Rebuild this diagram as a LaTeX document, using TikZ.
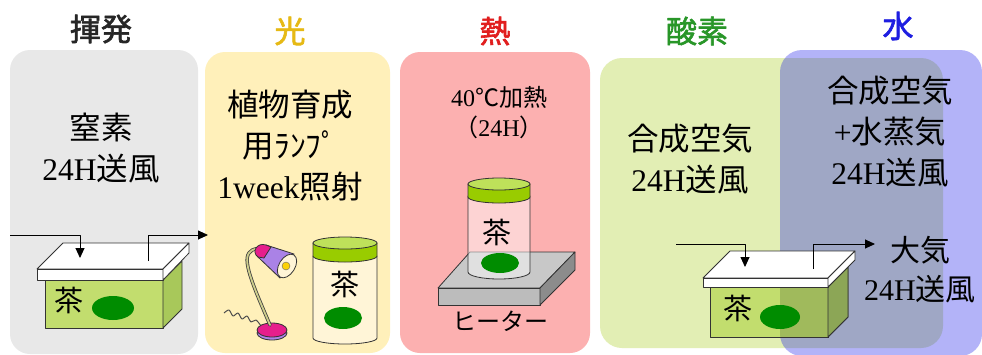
\documentclass[tikz,border=0pt]{standalone}
\usepackage{fontspec}
\setmainfont{Liberation Serif}
\newfontfamily\jpfont{Noto Sans CJK JP}
\newfontfamily\jpbold[FakeBold=2]{Noto Sans CJK JP}
\usepackage{tikz}
\usetikzlibrary{arrows.meta}
\definecolor{panelgray}{RGB}{232, 232, 232}
\definecolor{panelyellow}{RGB}{255, 240, 186}
\definecolor{panelred}{RGB}{252, 176, 176}
\definecolor{panelgreen}{RGB}{226, 238, 180}
\definecolor{panelblue}{RGB}{20, 20, 235}
\definecolor{teabox}{RGB}{194, 221, 110}
\definecolor{teaside}{RGB}{168, 200, 90}
\definecolor{teaboxdim}{RGB}{160, 186, 92}
\definecolor{teasidedim}{RGB}{140, 166, 86}
\definecolor{tealeaf}{RGB}{0, 140, 0}
\definecolor{capgreen}{RGB}{153, 204, 0}
\definecolor{captop}{RGB}{190, 225, 90}
\definecolor{jarcream}{RGB}{255, 245, 215}
\definecolor{lampmagenta}{RGB}{230, 30, 140}
\definecolor{lamppurple}{RGB}{170, 130, 230}
\definecolor{lampstem}{RGB}{205, 205, 140}
\definecolor{heatertop}{RGB}{200, 200, 200}
\definecolor{heaterfront}{RGB}{188, 188, 188}
\definecolor{heaterside}{RGB}{140, 140, 140}
\definecolor{titlegold}{RGB}{230, 185, 20}
\definecolor{titlered}{RGB}{225, 30, 30}
\definecolor{titlegreen}{RGB}{40, 150, 40}
\definecolor{titleblue}{RGB}{30, 30, 225}

\begin{document}
\begin{tikzpicture}[x=1pt, y=-1pt, line join=round,
        title/.style   = {font=\jpbold\fontsize{31}{31}\selectfont, text=black!85},
        caption/.style = {align=center, font=\fontsize{31.5}{41}\selectfont},
        small/.style   = {align=center, font=\fontsize{24}{30}\selectfont},
        tea/.style     = {font=\jpfont\fontsize{29}{29}\selectfont},
        outline/.style = {draw=black!80, line width=0.8pt},
        flow/.style    = {-{Triangle[width=9pt, length=10pt]}, line width=0.9pt}]
            % Frame to ensure alignment:
            \useasboundingbox[fill=white]                               (0, 0)     rectangle (982, 354);
            % panels
            \fill[panelgray,   rounded corners=20pt]                     (10, 50)   rectangle (198, 354);
            \fill[panelyellow, rounded corners=20pt]                     (205, 52)  rectangle (390, 353);
            \fill[panelred,    rounded corners=20pt]                     (400, 52)  rectangle (590, 353);
            \fill[panelgreen,  rounded corners=22pt]                     (600, 58)  rectangle (943, 348);
            % titles
            \node[title]                  (tVolatile) at (101, 29)  {揮発};
            \node[title, text=titlegold]  (tLight)    at (290, 31)  {光};
            \node[title, text=titlered]   (tHeat)     at (495, 31)  {熱};
            \node[title, text=titlegreen] (tOxygen)   at (697, 31)  {酸素};
            \node[title, text=titleblue]  (tWater)    at (898, 26)  {水};
            % nitrogen box
            \filldraw[fill=teabox, outline]                              (45, 280)  rectangle (163, 328);
            \filldraw[fill=teaside, outline] (163, 280) -- (182, 261) -- (182, 309) -- (163, 328) -- cycle;
            \filldraw[fill=white, outline]   (37, 269) -- (163, 269) -- (189, 243) -- (63, 243) -- cycle;
            \filldraw[fill=white, outline]                               (37, 269)  rectangle (163, 280);
            \filldraw[fill=white, outline]   (163, 269) -- (189, 243) -- (189, 253) -- (163, 280) -- cycle;
            \filldraw[fill=tealeaf, draw=none]                           (113, 308) ellipse   (21 and 12);
            \node[tea] (teaA) at (69, 300) {茶};
            \coordinate (inA)      at (10, 235);
            \coordinate (inAbend)  at (80, 235);
            \coordinate (inAtip)   at (80, 258);
            \coordinate (outA)     at (148, 261);
            \coordinate (outAbend) at (148, 235);
            \coordinate (outAtip)  at (208, 235);
            \draw[flow] (inA) -- (inAbend) -- (inAtip);
            \draw[flow] (outA) -- (outAbend) -- (outAtip);
            \node[caption] (cNitrogen) at (101, 148) {{\jpfont 窒素}\\24H{\jpfont 送風}};
            % lamp
            \draw[line width=1pt, black!70] plot[smooth] coordinates {(224, 313) (229, 310) (233, 316) (238, 313) (242, 319) (247, 316) (251, 322) (256, 320) (261, 326)};
            \filldraw[fill=lamppurple, outline]                          (272, 333) ellipse   (15 and 7);
            \filldraw[fill=lampmagenta, outline]                         (272, 330) ellipse   (15 and 7);
            \draw[line width=3.4pt, black!75, line cap=round] (270, 325) .. controls (256, 292) and (242, 262) .. (249, 253) .. controls (253, 248) and (258, 248) .. (262, 250);
            \draw[line width=1.8pt, lampstem, line cap=round]  (270, 325) .. controls (256, 292) and (242, 262) .. (249, 253) .. controls (253, 248) and (258, 248) .. (262, 250);
            \filldraw[fill=lamppurple, outline] (266, 245) -- (294, 254) -- (280, 278) -- (258, 257) -- cycle;
            \filldraw[fill=lampmagenta, outline] (266, 245) .. controls (257, 242) and (251, 252) .. (258, 257) -- (264, 258) -- (271, 247) -- cycle;
            \filldraw[fill=jarcream, outline, rotate around={58:(287, 266)}] (287, 266) ellipse (13 and 8);
            \filldraw[fill=yellow!70!orange, draw=black!60]              (286, 266) circle    (4);
            % jar under the lamp
            \filldraw[fill=jarcream, outline] (313, 256) -- (313, 338) arc[start angle=180, end angle=0, x radius=32, y radius=6] -- (377, 256) -- cycle;
            \filldraw[fill=capgreen, outline] (313, 243) -- (313, 256) arc[start angle=180, end angle=0, x radius=32, y radius=6] -- (377, 243) -- cycle;
            \filldraw[fill=captop, outline]                              (345, 243) ellipse   (32 and 6);
            \filldraw[fill=tealeaf, draw=none]                           (343, 318) ellipse   (19 and 11);
            \node[tea] (teaB) at (345, 284) {茶};
            \node[caption] (cLamp) at (290, 146) {{\jpfont 植物育成}\\{\jpfont 用ﾗﾝﾌﾟ}\\1week{\jpfont 照射}};
            % heater and jar
            \filldraw[fill=heatertop, outline]   (438, 288) -- (540, 288) -- (575, 252) -- (470, 252) -- cycle;
            \filldraw[fill=heaterfront, outline]                         (438, 288) rectangle (540, 305);
            \filldraw[fill=heaterside, outline]  (540, 288) -- (575, 252) -- (575, 270) -- (540, 305) -- cycle;
            \filldraw[fill=white, fill opacity=0.45, outline] (468, 196) -- (468, 272) arc[start angle=180, end angle=0, x radius=31, y radius=7] -- (530, 196) -- cycle;
            \filldraw[fill=capgreen, outline] (468, 184) -- (468, 197) arc[start angle=180, end angle=0, x radius=31, y radius=6] -- (530, 184) -- cycle;
            \filldraw[fill=captop, outline]                              (499, 184) ellipse   (31 and 6);
            \filldraw[fill=tealeaf, draw=none]                           (500, 263) ellipse   (19 and 10);
            \node[tea] (teaC) at (497, 232) {茶};
            \node[font=\jpfont\fontsize{24}{24}\selectfont] (lHeater) at (500, 321) {ヒーター};
            \node[small] (cHeating) at (499, 113) {40{\jpfont ℃加熱}\\{\jpfont （}24H{\jpfont ）}};
            % air box, half under the steam panel
            \fill[panelblue, opacity=0.32, rounded corners=22pt]         (780, 50)  rectangle (982, 356);
            \filldraw[fill=teabox, outline]                              (710, 287) rectangle (828, 337);
            \filldraw[fill=teaside, outline] (828, 287) -- (848, 267) -- (848, 317) -- (828, 337) -- cycle;
            \begin{scope}
                \clip[rounded corners=22pt]                              (780, 50)  rectangle (982, 356);
                \filldraw[fill=teaboxdim, outline]                       (710, 287) rectangle (828, 337);
                \filldraw[fill=teasidedim, outline] (828, 287) -- (848, 267) -- (848, 317) -- (828, 337) -- cycle;
            \end{scope}
            \filldraw[fill=white, outline]   (703, 278) -- (828, 278) -- (855, 251) -- (730, 251) -- cycle;
            \filldraw[fill=white, outline]                               (703, 278) rectangle (828, 287);
            \filldraw[fill=white, outline]   (828, 278) -- (855, 251) -- (855, 260) -- (828, 287) -- cycle;
            \filldraw[fill=tealeaf, draw=none]                           (780, 317) ellipse   (20 and 12);
            \node[tea] (teaD) at (738, 308) {茶};
            \coordinate (inB)      at (676, 244);
            \coordinate (inBbend)  at (745, 244);
            \coordinate (inBtip)   at (745, 267);
            \coordinate (outB)     at (813, 269);
            \coordinate (outBbend) at (813, 244);
            \coordinate (outBtip)  at (875, 244);
            \draw[flow] (inB) -- (inBbend) -- (inBtip);
            \draw[flow] (outB) -- (outBbend) -- (outBtip);
            \node[caption] (cSynth) at (690, 159) {{\jpfont 合成空気}\\24H{\jpfont 送風}};
            \node[caption] (cSteam) at (890, 132) {{\jpfont 合成空気}\\+{\jpfont 水蒸気}\\24H{\jpfont 送風}};
            \node[caption, font=\fontsize{30}{39}\selectfont] (cAir) at (920, 270) {{\jpfont 大気}\\24H{\jpfont 送風}};
        \end{tikzpicture}
\end{document}
